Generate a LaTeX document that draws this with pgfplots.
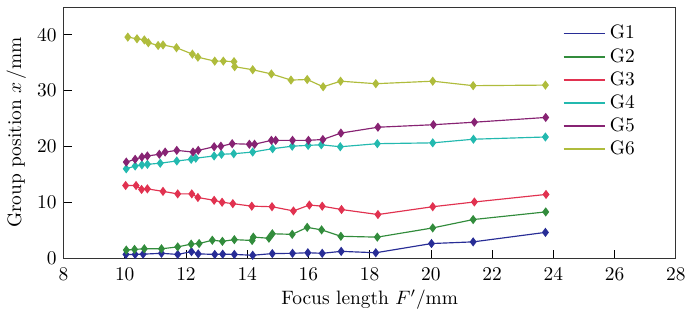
\documentclass[border=0pt]{standalone}
\usepackage{pgfplots}
\pgfplotsset{compat=1.18}
\definecolor{cG1}{RGB}{40,45,150}
\definecolor{cG2}{RGB}{50,140,60}
\definecolor{cG3}{RGB}{225,50,80}
\definecolor{cG4}{RGB}{35,185,175}
\definecolor{cG5}{RGB}{135,35,115}
\definecolor{cG6}{RGB}{175,188,60}
\begin{document}
\begin{tikzpicture}
\begin{axis}[
  scale only axis,
  width=315.6pt, height=129.4pt,
  xmin=8, xmax=28, ymin=0, ymax=45,
  xtick={8,10,...,28}, ytick={0,10,20,30,40},
  xtick pos=bottom, ytick pos=left,
  tick style={black, thin},
  axis line style={black!80},
  xticklabel style={yshift=-1.5pt},
  xlabel={Focus length $F'$/mm},
  ylabel={Group position $x$\,/mm},
  xlabel style={yshift=2pt},
  ylabel style={yshift=-1pt},
  every axis plot/.append style={line width=0.6pt, mark=diamond*, mark size=1.9pt},
  legend style={draw=none, fill=none, at={(0.805,0.96)}, anchor=north west, row sep=-0.6pt, font=\normalsize},
  legend cell align=left,
  legend image code/.code={\draw[#1, mark=none, line width=1pt] (0cm,0cm) -- (0.75cm,0cm);},
]
\addplot[cG1, mark options={fill=cG1}] coordinates {
(10.04,0.65) (10.34,0.65) (10.6,0.7) (11.2,0.85) (11.73,0.65) (12.18,1.15) (12.4,0.75)
(12.94,0.65) (13.2,0.7) (13.58,0.65) (14.18,0.5) (14.82,0.8) (15.48,0.85) (15.98,0.95)
(16.45,0.85) (17.07,1.2) (18.2,0.95) (20.02,2.6) (21.38,2.9) (23.74,4.6)};
\addlegendentry{G1}
\addplot[cG2, mark options={fill=cG2}] coordinates {
(10.05,1.43) (10.32,1.55) (10.64,1.66) (11.2,1.66) (11.73,2.0) (12.17,2.5) (12.43,2.6)
(12.86,3.2) (13.19,3.0) (13.58,3.3) (14.16,3.15) (14.2,3.75) (14.71,3.55) (14.82,4.35)
(15.47,4.25) (15.96,5.5) (16.43,5.05) (17.06,3.9) (18.25,3.75) (20.06,5.4) (21.38,6.9) (23.75,8.27)};
\addlegendentry{G2}
\addplot[cG3, mark options={fill=cG3}] coordinates {
(10.03,13.0) (10.37,13.0) (10.55,12.3) (10.74,12.4) (11.25,11.95) (11.73,11.5) (12.19,11.5)
(12.39,10.85) (12.92,10.35) (13.18,10.0) (13.53,9.75) (14.15,9.3) (14.81,9.2) (15.51,8.45)
(16.03,9.5) (16.45,9.3) (17.08,8.7) (18.27,7.8) (20.06,9.2) (21.42,10.05) (23.76,11.4)};
\addlegendentry{G3}
\addplot[cG4, mark options={fill=cG4}] coordinates {
(10.05,16.0) (10.34,16.5) (10.56,16.7) (10.74,16.8) (11.16,17.0) (11.70,17.4) (12.17,17.7)
(12.32,17.9) (12.92,18.3) (13.16,18.6) (13.56,18.7) (14.18,19.0) (14.83,19.6) (15.47,20.05)
(15.99,20.2) (16.42,20.3) (17.04,19.95) (18.25,20.5) (20.06,20.65) (21.39,21.3) (23.74,21.7)};
\addlegendentry{G4}
\addplot[cG5, mark options={fill=cG5}] coordinates {
(10.05,17.2) (10.34,17.7) (10.56,18.1) (10.74,18.3) (11.13,18.6) (11.32,19.0) (11.70,19.3)
(12.23,19.0) (12.40,19.3) (12.92,19.95) (13.14,20.05) (13.51,20.5) (14.07,20.4) (14.24,20.4)
(14.79,21.1) (14.93,21.1) (15.48,21.1) (16.00,21.1) (16.47,21.25) (17.06,22.4) (18.27,23.45)
(20.08,23.9) (21.42,24.35) (23.75,25.2)};
\addlegendentry{G5}
\addplot[cG6, mark options={fill=cG6}] coordinates {
(10.10,39.6) (10.40,39.3) (10.64,39.1) (10.77,38.6) (11.09,38.1) (11.25,38.2) (11.69,37.7)
(12.21,36.55) (12.39,36.0) (12.94,35.3) (13.22,35.3) (13.57,35.2) (13.59,34.3) (14.18,33.75)
(14.79,33.0) (15.43,31.9) (15.96,32.0) (16.48,30.7) (17.05,31.7) (18.2,31.25) (20.06,31.7)
(21.38,30.9) (23.74,31.0)};
\addlegendentry{G6}
\end{axis}
\path ([xshift=-32pt,yshift=-31pt]current axis.south west) rectangle ([xshift=6pt,yshift=3.6pt]current axis.north east);
\end{tikzpicture}
\end{document}
